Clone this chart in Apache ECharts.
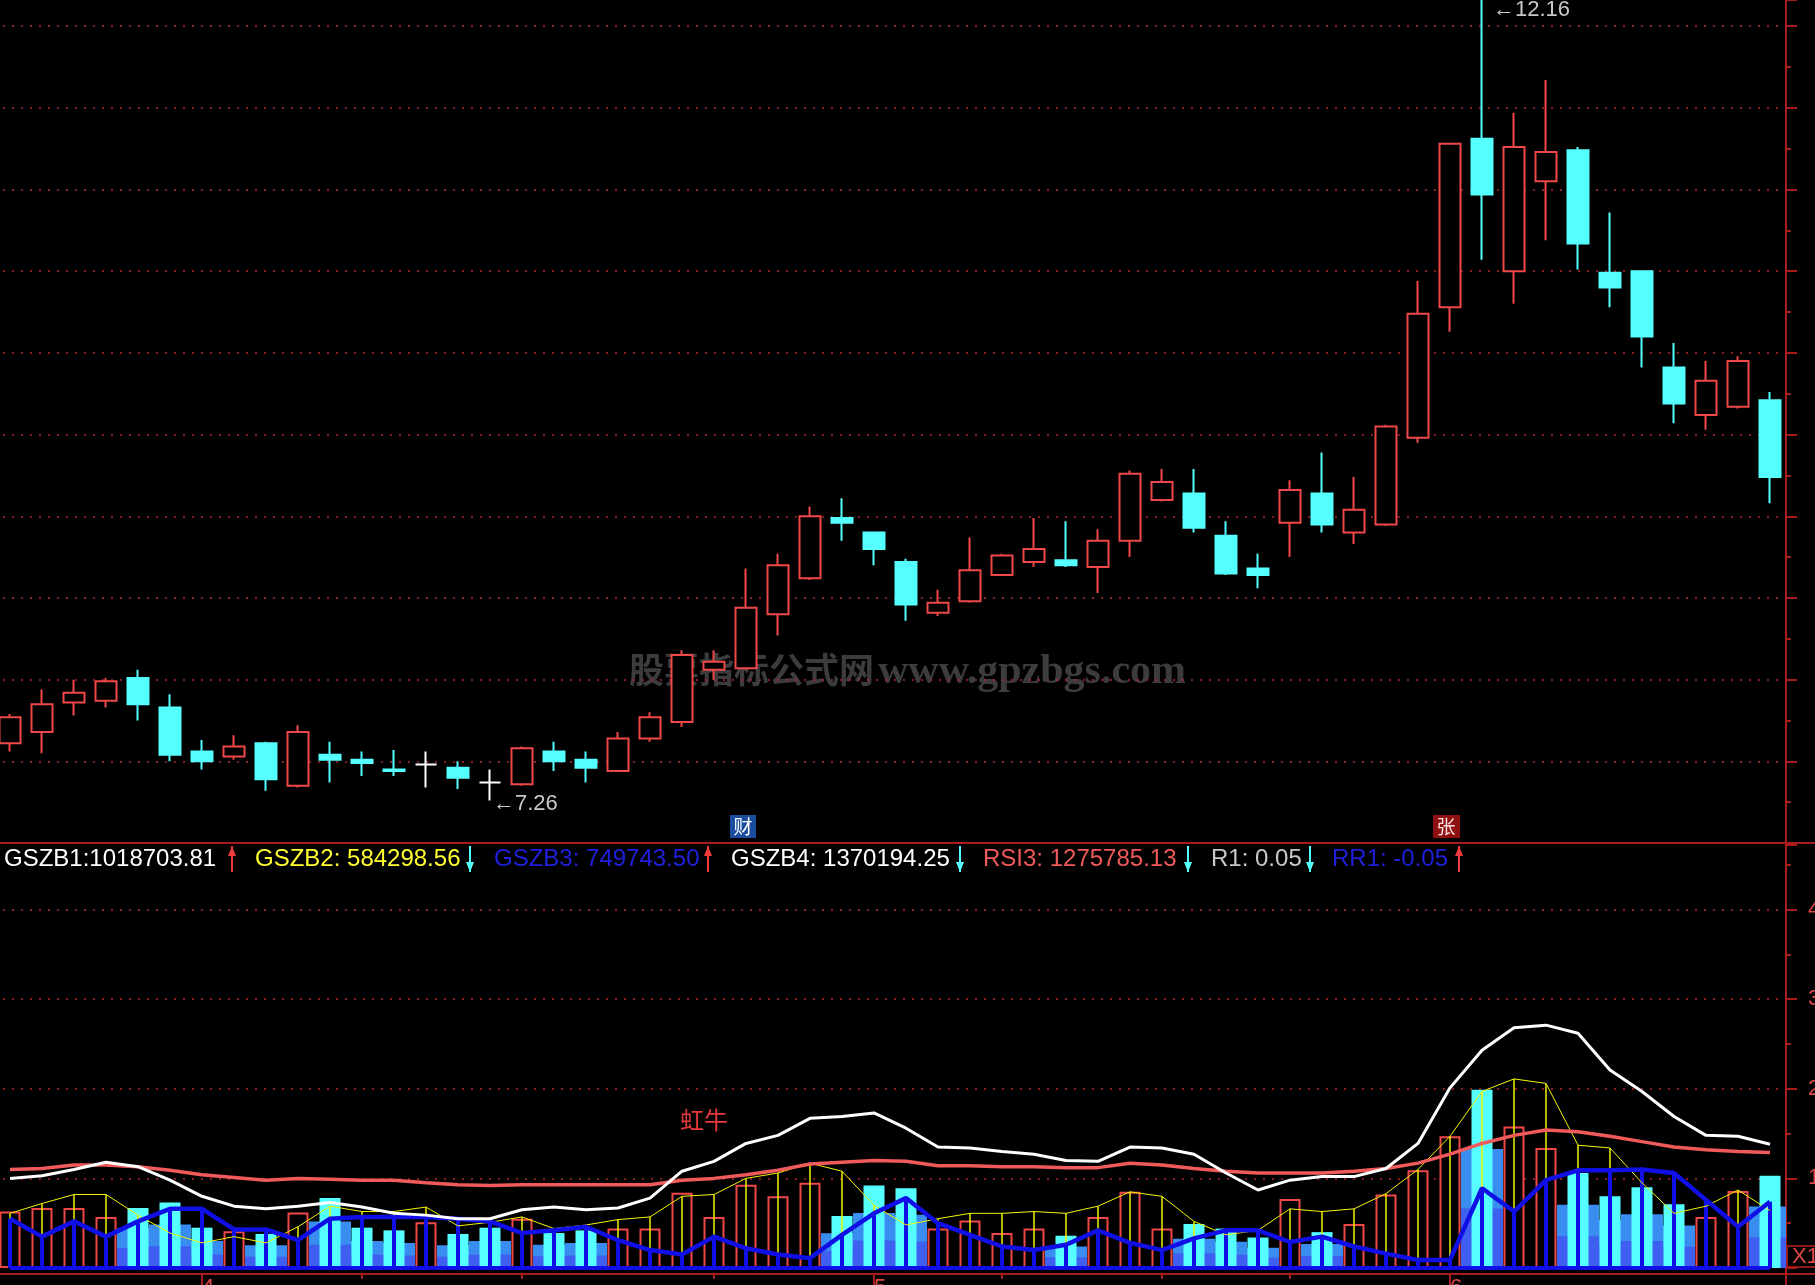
<!DOCTYPE html>
<html>
<head>
<meta charset="utf-8">
<title>GSZB</title>
<script src="https://cdn.jsdelivr.net/npm/echarts@6.0.0/dist/echarts.min.js"></script>
<style>
  html, body { margin: 0; padding: 0; background: #000; }
  #kChart { width: 1815px; height: 1285px; }
</style>
</head>
<body>
<div id="kChart"></div>
<script>
  // 交易日
  const dates = [
    '03-24', '03-25', '03-26', '03-27', '03-28', '03-31',
    '04-01', '04-02', '04-03', '04-07', '04-08', '04-09', '04-10', '04-11', '04-14', '04-15', '04-16',
    '04-17', '04-18', '04-21', '04-22', '04-23', '04-24', '04-25', '04-28', '04-29', '04-30',
    '05-06', '05-07', '05-08', '05-09', '05-12', '05-13', '05-14', '05-15', '05-16', '05-19', '05-20',
    '05-21', '05-22', '05-23', '05-26', '05-27', '05-28', '05-29',
    '06-03', '06-04', '06-05', '06-06', '06-09', '06-10', '06-11', '06-12', '06-13', '06-16', '06-17'
  ];
  // K线: 开 收 低 高
  const openPrice = [7.61, 7.68, 7.86, 7.87, 8.01, 7.83, 7.56, 7.53, 7.61, 7.35, 7.54, 7.51, 7.45, 7.48, 7.46, 7.37,
    7.36, 7.56, 7.51, 7.44, 7.64, 7.74, 8.06, 8.07, 8.40, 8.62, 8.99, 8.90, 8.72, 8.41, 8.48, 8.64, 8.72, 8.73,
    8.69, 8.85, 9.10, 9.14, 8.88, 8.68, 8.96, 9.14, 8.90, 8.95, 9.48, 10.28, 11.31, 10.50, 11.05, 11.24, 10.49,
    10.50, 9.91, 9.62, 9.67, 9.71];
  const closePrice = [7.77, 7.85, 7.92, 7.99, 7.85, 7.54, 7.50, 7.59, 7.39, 7.68, 7.51, 7.49, 7.44, 7.48, 7.40, 7.37,
    7.58, 7.50, 7.46, 7.64, 7.77, 8.15, 8.11, 8.44, 8.70, 9.00, 8.96, 8.80, 8.46, 8.47, 8.67, 8.76, 8.80, 8.70,
    8.85, 9.26, 9.21, 8.93, 8.65, 8.64, 9.16, 8.95, 9.04, 9.55, 10.24, 11.28, 10.97, 11.26, 11.23, 10.67, 10.40,
    10.10, 9.69, 9.83, 9.95, 9.24];
  const lowPrice = [7.56, 7.55, 7.78, 7.83, 7.75, 7.50, 7.45, 7.51, 7.32, 7.34, 7.37, 7.41, 7.41, 7.34, 7.33, 7.26,
    7.35, 7.44, 7.37, 7.44, 7.62, 7.71, 8.00, 8.06, 8.27, 8.61, 8.85, 8.70, 8.36, 8.39, 8.47, 8.64, 8.69, 8.69,
    8.53, 8.75, 9.09, 8.90, 8.64, 8.56, 8.75, 8.90, 8.83, 8.94, 9.45, 10.13, 10.57, 10.30, 10.69, 10.51, 10.28,
    9.91, 9.57, 9.53, 9.66, 9.08];
  const highPrice = [7.79, 7.94, 8.00, 8.01, 8.06, 7.91, 7.63, 7.66, 7.62, 7.72, 7.62, 7.56, 7.57, 7.56, 7.50, 7.45,
    7.59, 7.62, 7.56, 7.68, 7.80, 8.18, 8.18, 8.68, 8.77, 9.06, 9.11, 8.90, 8.74, 8.55, 8.87, 8.77, 8.99, 8.97,
    8.92, 9.28, 9.29, 9.29, 8.97, 8.77, 9.22, 9.39, 9.24, 9.56, 10.44, 11.28, 12.16, 11.47, 11.67, 11.26, 10.86,
    10.50, 10.06, 9.95, 9.98, 9.76];

  // 副图 (X10000)
  const volume = [0.63, 0.67, 0.67, 0.57, 0.67, 0.73, 0.45, 0.41, 0.38, 0.62,
    0.78, 0.45, 0.42, 0.51, 0.38, 0.45, 0.55, 0.39, 0.42, 0.44,
    0.44, 0.84, 0.57, 0.93, 0.80, 0.95, 0.58, 0.92, 0.89, 0.44,
    0.53, 0.39, 0.44, 0.36, 0.57, 0.85, 0.44, 0.49, 0.44, 0.34,
    0.77, 0.40, 0.49, 0.82, 1.09, 1.47, 1.99, 1.58, 1.34, 1.06,
    0.80, 0.90, 0.71, 0.57, 0.86, 1.03];
  const gszb4 = [1.00, 1.03, 1.10, 1.18, 1.13, 0.98, 0.80, 0.69, 0.66, 0.69,
    0.73, 0.68, 0.61, 0.59, 0.55, 0.55, 0.65, 0.68, 0.65, 0.67,
    0.78, 1.08, 1.19, 1.39, 1.48, 1.67, 1.69, 1.73, 1.56, 1.35,
    1.34, 1.30, 1.27, 1.20, 1.19, 1.35, 1.34, 1.27, 1.06, 0.87,
    0.98, 1.02, 1.02, 1.11, 1.39, 2.01, 2.43, 2.68, 2.71, 2.62,
    2.21, 1.97, 1.69, 1.48, 1.47, 1.38];
  const rsi3 = [1.10, 1.11, 1.15, 1.15, 1.13, 1.09, 1.04, 1.01, 0.98, 1.00,
    0.99, 0.98, 0.98, 0.95, 0.93, 0.92, 0.93, 0.93, 0.93, 0.93,
    0.93, 0.98, 1.00, 1.04, 1.09, 1.16, 1.18, 1.20, 1.19, 1.14,
    1.14, 1.13, 1.13, 1.12, 1.12, 1.17, 1.15, 1.11, 1.08, 1.06,
    1.06, 1.06, 1.08, 1.11, 1.17, 1.27, 1.39, 1.48, 1.54, 1.52,
    1.47, 1.41, 1.35, 1.32, 1.30, 1.29];
  const gszb2 = [0.61, 0.72, 0.82, 0.82, 0.59, 0.39, 0.28, 0.35, 0.28, 0.46,
    0.69, 0.63, 0.63, 0.68, 0.47, 0.51, 0.57, 0.44, 0.48, 0.54,
    0.57, 0.80, 0.82, 1.00, 1.06, 1.17, 1.08, 0.70, 0.48, 0.55,
    0.61, 0.61, 0.63, 0.61, 0.69, 0.85, 0.80, 0.52, 0.37, 0.42,
    0.66, 0.63, 0.66, 0.83, 1.10, 1.47, 1.97, 2.11, 2.06, 1.37,
    1.34, 0.95, 0.61, 0.69, 0.87, 0.64];
  const gszb3 = [0.55, 0.35, 0.52, 0.35, 0.52, 0.66, 0.66, 0.43, 0.43, 0.31,
    0.55, 0.57, 0.57, 0.57, 0.55, 0.52, 0.39, 0.42, 0.46, 0.31,
    0.20, 0.15, 0.35, 0.22, 0.15, 0.11, 0.37, 0.61, 0.78, 0.50,
    0.37, 0.24, 0.20, 0.26, 0.42, 0.28, 0.20, 0.33, 0.42, 0.42,
    0.29, 0.35, 0.24, 0.16, 0.09, 0.09, 0.89, 0.63, 0.98, 1.09,
    1.09, 1.10, 1.06, 0.76, 0.46, 0.74];

  // 刻度
  const subTicks = [1, 2, 3, 4];
  const weekTickIdx = [11, 16, 22, 31, 36, 40];

  // 指标标题
  const legendText = ['GSZB1:1018703.81', 'GSZB2: 584298.56', 'GSZB3: 749743.50', 'GSZB4: 1370194.25',
    'RSI3: 1275785.13', 'R1: 0.05', 'RR1: -0.05'];
  const legendArrow = ['up', 'down', 'up', 'down', 'down', 'down', 'up'];

  const red = '#f04848';
  const cyan = '#55ffff';
  const axisRed = '#a81c1c';
  const gridRed = '#b42828';
  const blue = '#1010e6';
  const legendColor = ['#ffffff', '#ffff30', '#2020dc', '#ffffff', '#f05a5a', '#c8c8c8', '#2020dc'];
  const legendX = [4, 255, 494, 731, 983, 1211, 1332];
  const arrowX = [232, 470, 708, 960, 1188, 1310, 1459];

  const down = closePrice.map((c, i) =>
    c < openPrice[i] || (c === openPrice[i] && i > 0 && c < closePrice[i - 1]));
  const monthTickIdx = dates
    .map((d, i) => (i > 0 && d.slice(0, 2) !== dates[i - 1].slice(0, 2) ? i : -1))
    .filter(i => i >= 0);

  const candleData = dates.map((d, i) => {
    const item = { value: [openPrice[i], closePrice[i], lowPrice[i], highPrice[i]] };
    if (openPrice[i] === closePrice[i]) {
      item.itemStyle = { color: '#fff', color0: '#fff', borderColor: '#fff', borderColor0: '#fff' };
    }
    return item;
  });

  const font = 'Liberation Sans, Arial, sans-serif';
  const cjk = 'Noto Sans CJK SC, sans-serif';

  function arrow(x, dir, color) {
    const top = 846, bottom = 872;
    const head = dir === 'up'
      ? [[x - 4, top + 10], [x, top], [x + 4, top + 10]]
      : [[x - 4, bottom - 10], [x, bottom], [x + 4, bottom - 10]];
    return {
      type: 'group',
      children: [
        { type: 'line', shape: { x1: x, y1: top, x2: x, y2: bottom }, style: { stroke: color, lineWidth: 2 } },
        { type: 'polygon', shape: { points: head }, style: { fill: color } }
      ]
    };
  }

  const graphics = [
    { type: 'line', shape: { x1: 0, y1: 843, x2: 1815, y2: 843 }, style: { stroke: axisRed, lineWidth: 2 } },
    { type: 'line', shape: { x1: 1786, y1: 0, x2: 1786, y2: 1285 }, style: { stroke: axisRed, lineWidth: 2 } },
    { type: 'line', shape: { x1: 1786, y1: 1274, x2: 1815, y2: 1274 }, style: { stroke: axisRed, lineWidth: 2 } },
    { type: 'rect', shape: { x: 1787, y: 1246, width: 40, height: 21 }, style: { fill: '#000', stroke: '#c02020', lineWidth: 1.5 } },
    { type: 'text', x: 1792, y: 1257, style: { text: 'X10000', fill: '#e04848', fontSize: 22, fontFamily: font, verticalAlign: 'middle' } },
    // 水印
    { type: 'text', x: 629, y: 670, style: { text: '股票指标公式网', fill: '#3c3c3c', fontSize: 35, fontWeight: 'bold', fontFamily: cjk, verticalAlign: 'middle' } },
    { type: 'text', x: 878, y: 672, style: { text: 'www.gpzbgs.com', fill: '#3c3c3c', fontSize: 42, fontWeight: 'bold', fontFamily: 'Liberation Serif, serif', verticalAlign: 'middle' } },
    // 财 / 张
    { type: 'rect', shape: { x: 730, y: 815, width: 26, height: 23 }, style: { fill: '#1c4c9e' } },
    { type: 'text', x: 743, y: 827, style: { text: '财', fill: '#ffffff', fontSize: 19, fontFamily: cjk, align: 'center', verticalAlign: 'middle' } },
    { type: 'rect', shape: { x: 1433, y: 815, width: 27, height: 23 }, style: { fill: '#8e1010' } },
    { type: 'text', x: 1446, y: 827, style: { text: '张', fill: '#ffe0e0', fontSize: 19, fontFamily: cjk, align: 'center', verticalAlign: 'middle' } },
    { type: 'text', x: 680, y: 1120, style: { text: '虹牛', fill: '#e83a3a', fontSize: 24, fontFamily: cjk, verticalAlign: 'middle' } }
  ];
  legendText.forEach((t, i) => {
    graphics.push({ type: 'text', x: legendX[i], y: 859,
      style: { text: t, fill: legendColor[i], fontSize: 24, fontFamily: font, verticalAlign: 'middle' } });
    graphics.push(arrow(arrowX[i], legendArrow[i], legendArrow[i] === 'up' ? '#f03c3c' : cyan));
  });

  const chart = echarts.init(document.getElementById('kChart'));
  chart.setOption({
    backgroundColor: '#000',
    animation: false,
    grid: [
      { left: -6, top: 0, width: 1792, height: 843, containLabel: false, outerBoundsMode: 'none' },
      { left: -6, top: 845, width: 1792, height: 423, containLabel: false, outerBoundsMode: 'none' }
    ],
    xAxis: [
      { type: 'category', gridIndex: 0, data: dates, show: false },
      {
        type: 'category', gridIndex: 1, data: dates, position: 'bottom', offset: 6,
        axisLine: { onZero: false, lineStyle: { color: axisRed, width: 2 } },
        axisTick: { show: true, alignWithLabel: true, length: 5, interval: i => weekTickIdx.includes(i), lineStyle: { color: axisRed, width: 2 } },
        axisLabel: { show: false },
        splitLine: { show: false }
      },
      {
        type: 'category', gridIndex: 1, data: dates, position: 'bottom', offset: 6,
        axisLine: { show: false, onZero: false },
        axisTick: { show: true, alignWithLabel: true, length: 11, interval: i => monthTickIdx.includes(i), lineStyle: { color: axisRed, width: 2 } },
        axisLabel: {
          show: true, interval: i => monthTickIdx.includes(i), align: 'left', margin: 3,
          color: '#e04848', fontSize: 22, fontFamily: font,
          formatter: v => String(parseInt(v.slice(0, 2), 10))
        },
        splitLine: { show: false }
      },
      { type: 'category', gridIndex: 1, data: dates, position: 'bottom', show: false },
      { type: 'category', gridIndex: 1, data: dates, position: 'bottom', show: false },
      { type: 'category', gridIndex: 1, data: dates, position: 'bottom', show: false }
    ],
    yAxis: [
      {
        type: 'value', gridIndex: 0, position: 'right', min: 7, max: 12.16, interval: 0.5,
        axisLine: { show: true, lineStyle: { color: axisRed, width: 2 } },
        axisTick: { show: true, length: 11, lineStyle: { color: axisRed, width: 2 } },
        minorTick: { show: true, splitNumber: 2, length: 5, lineStyle: { color: axisRed, width: 2 } },
        axisLabel: { show: false },
        splitLine: { show: true, showMinLine: false, showMaxLine: false, lineStyle: { color: gridRed, width: 1.5, type: [2, 7] } }
      },
      {
        type: 'value', gridIndex: 1, position: 'right', min: 0, max: 4.72, interval: 1,
        axisLine: { show: true, lineStyle: { color: axisRed, width: 2 } },
        axisTick: { show: true, length: 11, lineStyle: { color: axisRed, width: 2 } },
        minorTick: { show: true, splitNumber: 2, length: 5, lineStyle: { color: axisRed, width: 2 } },
        axisLabel: { show: true, margin: 22, color: '#e04848', fontSize: 22, fontFamily: font,
          formatter: v => (subTicks.includes(v) ? String(v) : '') },
        splitLine: { show: true, showMinLine: false, showMaxLine: false, lineStyle: { color: gridRed, width: 1.5, type: [2, 7] } }
      }
    ],
    series: [
      {
        name: 'K', type: 'candlestick', xAxisIndex: 0, yAxisIndex: 0, data: candleData, barWidth: 21,
        itemStyle: { color: '#000', color0: cyan, borderColor: red, borderColor0: cyan, borderWidth: 2 },
        markPoint: {
          symbol: 'circle', symbolSize: 2, silent: true,
          itemStyle: { color: 'rgba(0,0,0,0)' },
          label: {
            show: true, position: 'right', distance: 0, color: '#c8c8c8', fontSize: 22, fontFamily: font,
            formatter: p => '←' + Number(p.value).toFixed(2)
          },
          data: [
            { type: 'max', valueDim: 'highest', label: { offset: [10, 10] } },
            { type: 'min', valueDim: 'lowest', label: { offset: [2, 3] } }
          ]
        }
      },
      // 阴线宽柱底色
      { type: 'bar', xAxisIndex: 3, yAxisIndex: 1, barWidth: 42, barGap: '-100%',
        data: volume.map((v, i) => (down[i] ? v * 2 / 3 : '-')), itemStyle: { color: '#3a8df0' } },
      { type: 'bar', xAxisIndex: 3, yAxisIndex: 1, barWidth: 42, barGap: '-100%',
        data: volume.map((v, i) => (down[i] ? v / 3 : '-')), itemStyle: { color: '#3e5ff0' } },
      // 量柱
      { type: 'bar', xAxisIndex: 1, yAxisIndex: 1, barWidth: 21, barGap: '-100%',
        data: volume.map((v, i) => (down[i] ? '-' : v)), itemStyle: { color: '#000', borderColor: red, borderWidth: 2 } },
      { type: 'bar', xAxisIndex: 1, yAxisIndex: 1, barWidth: 21, barGap: '-100%',
        data: volume.map((v, i) => (down[i] ? v : '-')), itemStyle: { color: cyan } },
      // GSZB2 黄
      { type: 'bar', xAxisIndex: 4, yAxisIndex: 1, barWidth: 1.5, data: gszb2, itemStyle: { color: '#f0f000' } },
      { name: 'GSZB2', type: 'line', xAxisIndex: 1, yAxisIndex: 1, data: gszb2, symbol: 'none',
        lineStyle: { color: '#f5f500', width: 1 } },
      // GSZB3 蓝
      { type: 'bar', xAxisIndex: 5, yAxisIndex: 1, barWidth: 4, data: gszb3, itemStyle: { color: blue } },
      { name: 'GSZB3', type: 'line', xAxisIndex: 1, yAxisIndex: 1, data: gszb3, symbol: 'none',
        lineStyle: { color: blue, width: 4.5 } },
      { type: 'line', xAxisIndex: 1, yAxisIndex: 1, data: dates.map(() => 0), symbol: 'none',
        lineStyle: { color: blue, width: 4 } },
      // RSI3 / GSZB4
      { name: 'RSI3', type: 'line', xAxisIndex: 1, yAxisIndex: 1, data: rsi3, symbol: 'none',
        lineStyle: { color: '#f05a5a', width: 3.5 } },
      { name: 'GSZB4', type: 'line', xAxisIndex: 1, yAxisIndex: 1, data: gszb4, symbol: 'none',
        lineStyle: { color: '#ffffff', width: 3 } }
    ],
    graphic: graphics
  });
</script>
</body>
</html>
